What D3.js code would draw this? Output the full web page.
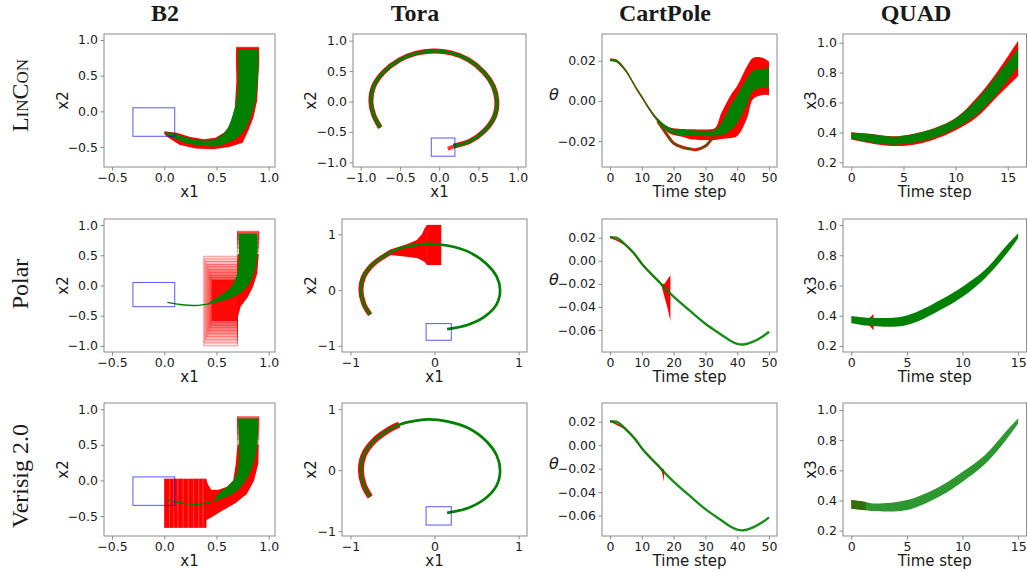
<!DOCTYPE html>
<html>
<head>
<meta charset="utf-8">
<script src="https://cdn.jsdelivr.net/npm/d3@7"></script>
<style>
  body { margin: 0; background: #fff; }
  svg text { font-family: "DejaVu Sans", sans-serif; fill: #1a1a1a; }
  .alabel { font-size: 15px; }
  .coltitle { font-family: "Liberation Serif", serif; font-weight: bold; font-size: 24px; }
  .rowtitle { font-family: "Liberation Serif", serif; font-size: 24px; }
</style>
</head>
<body>
<svg width="1027" height="571"></svg>
<script>
// ---- labels
var colTitles = ["B2", "Tora", "CartPole", "QUAD"];
var rowTitles = ["LinCon", "Polar", "Verisig 2.0"];

// ---- goal sets [x1lo, x1hi, x2lo, x2hi]
var b2Goal = [-0.3, 0.1, -0.35, 0.05];
var toraGoal = [-0.1, 0.2, -0.9, -0.6];

// ---- B2, LinCon: reach tube and simulated bundle (outer / inner edges)
var b2LinRedOuter = [[0.905, 0.9], [0.905, 0.62], [0.89, 0.16], [0.855, -0.08], [0.81, -0.25], [0.75, -0.44], [0.62, -0.50], [0.47, -0.53], [0.30, -0.52], [0.15, -0.47], [0.04, -0.37], [0.0, -0.32]];
var b2LinRedInner = [[0.69, 0.9], [0.69, 0.40], [0.675, 0.05], [0.65, -0.10], [0.62, -0.22], [0.57, -0.30], [0.49, -0.37], [0.38, -0.39], [0.25, -0.36], [0.12, -0.30], [0.0, -0.28]];
var b2LinTopBoxes = [[0.69, 0.905, 0.72, 0.90], [0.69, 0.905, 0.66, 0.88], [0.69, 0.905, 0.60, 0.85], [0.69, 0.905, 0.54, 0.82]];
var b2LinGreenOuter = [[0.90, 0.87], [0.90, 0.63], [0.875, 0.16], [0.83, -0.07], [0.79, -0.21], [0.73, -0.33], [0.64, -0.42], [0.50, -0.49], [0.35, -0.48], [0.20, -0.44], [0.08, -0.37], [0.015, -0.32]];
var b2LinGreenInner = [[0.705, 0.87], [0.705, 0.40], [0.685, 0.10], [0.665, 0.0], [0.63, -0.16], [0.58, -0.29], [0.50, -0.38], [0.40, -0.41], [0.25, -0.38], [0.12, -0.32], [0.02, -0.285]];

// ---- B2, Polar
var b2PolTopBoxes = [[0.70, 0.905, 0.55, 0.90], [0.70, 0.905, 0.62, 0.89], [0.70, 0.905, 0.69, 0.88], [0.70, 0.905, 0.76, 0.87]];
var b2PolRight = [[0.70, 0.52], [0.905, 0.52], [0.89, 0.2], [0.85, -0.02], [0.80, -0.19], [0.73, -0.35], [0.70, -0.55]];
var b2PolNest = [[0.378, 0.70, -1.00, 0.485], [0.388, 0.70, -0.95, 0.44], [0.398, 0.70, -0.90, 0.40], [0.408, 0.70, -0.85, 0.35],
                 [0.418, 0.70, -0.80, 0.31], [0.428, 0.70, -0.75, 0.26], [0.438, 0.70, -0.70, 0.22], [0.446, 0.70, -0.66, 0.17],
                 [0.452, 0.70, -0.62, 0.13], [0.46, 0.70, -0.58, 0.09]];
var b2PolFanOuter = [[0.89, 0.86], [0.895, 0.6], [0.875, 0.3], [0.82, 0.05], [0.74, -0.11], [0.62, -0.22], [0.5, -0.28], [0.42, -0.305]];
var b2PolFanInner = [[0.71, 0.86], [0.715, 0.5], [0.69, 0.15], [0.63, -0.04], [0.53, -0.17], [0.45, -0.26], [0.42, -0.29]];
var b2PolTail = [[0.44, -0.30], [0.3, -0.33], [0.15, -0.315], [0.03, -0.28]];

// ---- B2, Verisig 2.0
var b2VerTopBoxes = [[0.70, 0.905, 0.50, 0.90], [0.70, 0.905, 0.58, 0.89], [0.70, 0.905, 0.66, 0.88], [0.70, 0.905, 0.74, 0.87]];
var b2VerBlock = [[0.003, 0.40, -0.66, 0.02]];
var b2VerBlockLines = [0.05, 0.09, 0.13, 0.18, 0.23, 0.28, 0.33, 0.37];
var b2VerBand = [[0.40, 0.02], [0.42, -0.06], [0.45, -0.13], [0.52, -0.13], [0.60, -0.09], [0.66, 0.0], [0.685, 0.24], [0.70, 0.50],
                 [0.905, 0.50], [0.90, 0.24], [0.86, 0.0], [0.79, -0.19], [0.68, -0.32], [0.55, -0.43], [0.45, -0.52], [0.40, -0.56]];
var b2VerFanOuter = [[0.897, 0.87], [0.89, 0.47], [0.843, 0.19], [0.78, 0.0], [0.70, -0.14], [0.60, -0.23], [0.52, -0.27]];
var b2VerFanInner = [[0.705, 0.87], [0.715, 0.47], [0.70, 0.14], [0.65, -0.02], [0.54, -0.16], [0.48, -0.24]];
var b2VerTail = [[0.52, -0.27], [0.35, -0.33], [0.2, -0.325], [0.04, -0.28]];

// ---- Tora trajectories (x1, x2)
var toraLinArc = [[-0.75, -0.43], [-0.835, -0.22], [-0.87, 0.0], [-0.835, 0.25], [-0.71, 0.48], [-0.51, 0.68], [-0.3, 0.79], [-0.08, 0.83],
                  [0.15, 0.80], [0.37, 0.69], [0.57, 0.48], [0.69, 0.25], [0.735, 0.0], [0.70, -0.26], [0.57, -0.49], [0.39, -0.655], [0.18, -0.735]];
var toraLinRedEnd = [[0.11, -0.78], [0.18, -0.74]];
var toraArc = [[-0.765, -0.44], [-0.84, -0.25], [-0.875, 0.0], [-0.84, 0.25], [-0.72, 0.48], [-0.52, 0.68], [-0.42, 0.745], [-0.3, 0.79],
               [-0.08, 0.83], [0.15, 0.80], [0.40, 0.69], [0.62, 0.47], [0.74, 0.24], [0.78, 0.0], [0.74, -0.25], [0.6, -0.47], [0.4, -0.62], [0.15, -0.70]];
var toraPolFlare = [[-0.62, 0.62], [-0.526, 0.73], [-0.33, 0.82], [-0.21, 0.90], [-0.15, 1.0], [-0.12, 1.10], [-0.09, 1.17], [0.08, 1.17], [0.08, 0.45],
                    [-0.09, 0.45], [-0.12, 0.51], [-0.20, 0.57], [-0.33, 0.60], [-0.526, 0.63], [-0.62, 0.58]];

// ---- CartPole, theta over time
var cpLinT = [0, 2, 5, 8, 10, 13, 15, 18, 20, 23, 25, 28, 30, 33, 35, 38, 40, 43, 45, 48, 50];
var cpLinGreenLo = [0.0199, 0.0194, 0.0144, 0.0064, 0.0014, -0.0061, -0.0102, -0.0150, -0.0165, -0.0172, -0.0174, -0.0175, -0.0176, -0.0175, -0.0172, -0.0145, -0.0110, -0.0020, 0.0050, 0.0068, 0.0070];
var cpLinGreenHi = [0.0209, 0.0205, 0.0156, 0.0076, 0.0026, -0.0049, -0.0088, -0.0128, -0.0140, -0.0145, -0.0146, -0.0148, -0.0149, -0.0145, -0.0110, -0.0020, 0.0030, 0.0110, 0.0150, 0.0160, 0.0162];
var cpLinRedLo = [0.0197, 0.0192, 0.0142, 0.0062, 0.0012, -0.0063, -0.0104, -0.0155, -0.0170, -0.0180, -0.0190, -0.0195, -0.0195, -0.0195, -0.0190, -0.0185, -0.0175, -0.0090, 0.0010, 0.0030, 0.0028];
var cpLinRedHi = [0.0211, 0.0207, 0.0158, 0.0078, 0.0028, -0.0047, -0.0086, -0.0126, -0.0136, -0.0140, -0.0141, -0.0142, -0.0142, -0.0135, -0.0060, 0.0030, 0.0075, 0.0170, 0.0215, 0.0215, 0.0195];
var cpLinBranchT = [15, 18, 20, 23, 25, 27, 30, 32, 34];
var cpLinBranch = [-0.0100, -0.0170, -0.0210, -0.0232, -0.0238, -0.0243, -0.0225, -0.0190, -0.0165];

var cpT = [0, 2, 3, 5, 8, 10, 13, 15, 17, 20, 25, 30, 35, 38, 40, 42, 45, 48, 50];
var cpTheta = [0.0205, 0.0200, 0.0185, 0.0135, 0.0050, -0.0025, -0.0115, -0.0170, -0.0230, -0.0310, -0.0430, -0.0545, -0.0640, -0.0695, -0.0720, -0.0725, -0.0700, -0.0655, -0.0615];
var cpPolRedT = [0, 5, 10, 15, 16, 17, 18, 18.5, 19];
var cpPolRedLo = [0.0197, 0.0127, -0.0033, -0.0178, -0.0208, -0.0300, -0.0400, -0.0460, -0.0520];
var cpPolRedHi = [0.0213, 0.0143, -0.0017, -0.0162, -0.0192, -0.0200, -0.0165, -0.0145, -0.0125];
var cpVerRedT = [0, 5, 10, 15, 16, 16.5, 17];
var cpVerRedLo = [0.0198, 0.0128, -0.0032, -0.0177, -0.0207, -0.0250, -0.0310];
var cpVerRedHi = [0.0212, 0.0142, -0.0018, -0.0163, -0.0193, -0.0200, -0.0205];

// ---- QUAD, x3 over time
var quadLinT = [0, 2, 4, 6, 8, 10, 12, 14, 16];
var quadLinGreenLo = [0.355, 0.332, 0.318, 0.332, 0.367, 0.428, 0.517, 0.660, 0.840];
var quadLinGreenHi = [0.400, 0.388, 0.372, 0.390, 0.428, 0.494, 0.617, 0.784, 0.962];
var quadLinRedLo = [0.352, 0.325, 0.310, 0.318, 0.355, 0.415, 0.500, 0.640, 0.777];
var quadLinRedHi = [0.402, 0.390, 0.374, 0.392, 0.430, 0.496, 0.630, 0.806, 1.013];

var quadPolT = [0, 2, 5, 8, 10, 12, 14, 15];
var quadPolGreenLo = [0.350, 0.330, 0.339, 0.438, 0.526, 0.647, 0.813, 0.912];
var quadPolGreenHi = [0.398, 0.385, 0.402, 0.504, 0.592, 0.702, 0.868, 0.945];
var quadPolRedT = [1.3, 1.5, 1.8, 2.0];
var quadPolRedLo = [0.360, 0.343, 0.320, 0.303];
var quadPolRedHi = [0.362, 0.377, 0.397, 0.412];

var quadVerT = [0, 1.3, 2, 5, 8, 10, 12, 14, 15];
var quadVerGreenLo = [0.345, 0.335, 0.330, 0.337, 0.430, 0.525, 0.640, 0.810, 0.910];
var quadVerGreenHi = [0.403, 0.390, 0.380, 0.403, 0.495, 0.590, 0.700, 0.865, 0.945];
var quadVerRedT = [0, 1.3];
var quadVerRedLo = [0.345, 0.335];
var quadVerRedHi = [0.403, 0.390];

// ---- ticks
var b2Ticks = [-0.5, 0, 0.5, 1];
var b2PolYTicks = [-1, -0.5, 0, 0.5, 1];
var toraLinTicks = [-1, -0.5, 0, 0.5, 1];
var toraTicks = [-1, 0, 1];
var cpXTicks = [0, 10, 20, 30, 40, 50];
var cpLinYTicks = [-0.02, 0, 0.02];
var cpYTicks = [-0.06, -0.04, -0.02, 0, 0.02];
var quadXTicks = [0, 5, 10, 15];
var quadYTicks = [0.2, 0.4, 0.6, 0.8, 1.0];

var RED = "#ff0000", GREEN = "#008000", BLUE = "#0000ff";
var svg = d3.select("svg");
var clipN = 0;

function lineOf(x, y, curve) {
  return d3.line().x(function(d) { return x(d[0]); }).y(function(d) { return y(d[1]); }).curve(curve || d3.curveCatmullRom);
}

function polygon(g, x, y, ring, fill) {
  return g.append("path").attr("d", lineOf(x, y, d3.curveLinearClosed)(ring))
    .attr("fill", fill).attr("stroke", "none");
}

// band between two smooth edges, joined with straight ends
function ribbon(g, x, y, outer, inner, fill, curve) {
  var l = lineOf(x, y, curve || d3.curveCatmullRom);
  var d = l(outer) + "L" + l(inner.slice().reverse()).slice(1) + "Z";
  return g.append("path").attr("d", d).attr("fill", fill).attr("stroke", "none");
}

function boxes(g, x, y, list, fillOp, strokeOp) {
  g.selectAll(null).data(list).enter().append("rect")
    .attr("x", function(d) { return x(d[0]); })
    .attr("y", function(d) { return y(d[3]); })
    .attr("width", function(d) { return x(d[1]) - x(d[0]); })
    .attr("height", function(d) { return y(d[2]) - y(d[3]); })
    .attr("fill", RED).attr("fill-opacity", fillOp)
    .attr("stroke", RED).attr("stroke-opacity", strokeOp).attr("stroke-width", 0.7);
}

function stroke(g, x, y, pts, color, w, op) {
  g.append("path").attr("d", lineOf(x, y)(pts)).attr("fill", "none")
    .attr("stroke", color).attr("stroke-width", w).attr("stroke-opacity", op || 1)
    .attr("stroke-linecap", "butt").attr("stroke-linejoin", "round");
}

function band(g, x, y, t, lo, hi, color, op) {
  var area = d3.area()
    .x(function(i) { return x(t[i]); })
    .y0(function(i) { return y(lo[i]); })
    .y1(function(i) { return y(hi[i]); })
    .curve(d3.curveCatmullRom);
  g.append("path").attr("d", area(d3.range(t.length))).attr("fill", color).attr("fill-opacity", op || 1);
}

function series(g, x, y, t, v, color, w, op) {
  var ln = d3.line().x(function(i) { return x(t[i]); }).y(function(i) { return y(v[i]); }).curve(d3.curveCatmullRom);
  g.append("path").attr("d", ln(d3.range(t.length))).attr("fill", "none")
    .attr("stroke", color).attr("stroke-width", w).attr("stroke-opacity", op || 1);
}

function goal(g, x, y, r) {
  g.append("rect").attr("x", x(r[0])).attr("y", y(r[3]))
    .attr("width", x(r[1]) - x(r[0])).attr("height", y(r[2]) - y(r[3]))
    .attr("fill", "none").attr("stroke", BLUE).attr("stroke-opacity", 0.6).attr("stroke-width", 1.1);
}

function panel(cfg) {
  var b = cfg.box; // [left, right, top, bottom]
  var x = d3.scaleLinear().domain(cfg.xDom).range([b[0], b[1]]);
  var y = d3.scaleLinear().domain(cfg.yDom).range([b[3], b[2]]);
  var id = "clip" + (clipN++);
  svg.append("clipPath").attr("id", id).append("rect")
    .attr("x", b[0]).attr("y", b[2]).attr("width", b[1] - b[0]).attr("height", b[3] - b[2]);
  var g = svg.append("g");
  var plot = g.append("g").attr("clip-path", "url(#" + id + ")");
  cfg.draw(plot, x, y);

  g.append("rect").attr("x", b[0]).attr("y", b[2]).attr("width", b[1] - b[0]).attr("height", b[3] - b[2])
    .attr("fill", "none").attr("stroke", "#8a8a8a").attr("stroke-width", 1);

  var xa = g.append("g").attr("transform", "translate(0," + b[3] + ")")
    .call(d3.axisBottom(x).tickValues(cfg.xTicks).tickFormat(d3.format(cfg.xFmt)).tickSize(3.5).tickPadding(2.5));
  var ya = g.append("g").attr("transform", "translate(" + b[0] + ",0)")
    .call(d3.axisLeft(y).tickValues(cfg.yTicks).tickFormat(d3.format(cfg.yFmt)).tickSize(3.5).tickPadding(2.5));
  [xa, ya].forEach(function(a) {
    a.select(".domain").remove();
    a.selectAll(".tick line").attr("stroke", "#8a8a8a");
    a.selectAll(".tick text").attr("fill", "#1a1a1a").attr("font-family", "DejaVu Sans").attr("font-size", 12.5);
  });

  g.append("text").attr("class", "alabel").attr("x", (b[0] + b[1]) / 2).attr("y", b[3] + 30)
    .attr("text-anchor", "middle").text(cfg.xLabel);
  if (cfg.yLabel === "\u03b8") {
    g.append("text").attr("x", b[0] - 48).attr("y", (b[2] + b[3]) / 2 - 1)
      .attr("text-anchor", "middle").attr("font-style", "italic").attr("font-size", 16).text(cfg.yLabel);
  } else {
    var cx = b[0] - cfg.yOff + 5, cy = (b[2] + b[3]) / 2;
    g.append("text").attr("class", "alabel").attr("transform", "translate(" + cx + "," + cy + ") rotate(-90)")
      .attr("text-anchor", "middle").text(cfg.yLabel);
  }
}

// ---- layout
var rowsY = [[34, 167], [219, 352], [403, 536]];
function box(l, r, row) { return [l, r, rowsY[row][0], rowsY[row][1]]; }

var panels = [
  // ---------- B2
  { box: box(104, 275, 0), xDom: [-0.577, 1.06], yDom: [-0.78, 1.084], xTicks: b2Ticks, yTicks: b2Ticks, xFmt: ".1f", yFmt: ".1f",
    xLabel: "x1", yLabel: "x2", yOff: 41.5,
    draw: function(g, x, y) {
      ribbon(g, x, y, b2LinRedOuter, b2LinRedInner, RED, d3.curveLinear);
      boxes(g, x, y, b2LinTopBoxes, 0.15, 0.5);
      ribbon(g, x, y, b2LinGreenOuter, b2LinGreenInner, GREEN);
      goal(g, x, y, b2Goal);
    } },
  { box: box(104, 275, 1), xDom: [-0.577, 1.06], yDom: [-1.1, 1.1], xTicks: b2Ticks, yTicks: b2PolYTicks, xFmt: ".1f", yFmt: ".1f",
    xLabel: "x1", yLabel: "x2", yOff: 41.5,
    draw: function(g, x, y) {
      boxes(g, x, y, b2PolNest, 0.1, 0.55);
      boxes(g, x, y, b2PolNest.slice(-1), 0.9, 0.9);
      polygon(g, x, y, b2PolRight, RED);
      boxes(g, x, y, b2PolTopBoxes, 0.2, 0.5);
      ribbon(g, x, y, b2PolFanOuter, b2PolFanInner, GREEN);
      stroke(g, x, y, b2PolTail, GREEN, 1.4);
      goal(g, x, y, b2Goal);
    } },
  { box: box(104, 275, 2), xDom: [-0.577, 1.06], yDom: [-0.78, 1.088], xTicks: b2Ticks, yTicks: b2Ticks, xFmt: ".1f", yFmt: ".1f",
    xLabel: "x1", yLabel: "x2", yOff: 41.5,
    draw: function(g, x, y) {
      boxes(g, x, y, b2VerBlock, 1, 1);
      g.selectAll(null).data(b2VerBlockLines).enter().append("line")
        .attr("x1", function(d) { return x(d); }).attr("x2", function(d) { return x(d); })
        .attr("y1", y(b2VerBlock[0][3])).attr("y2", y(b2VerBlock[0][2]))
        .attr("stroke", "#ff6b6b").attr("stroke-width", 0.6);
      polygon(g, x, y, b2VerBand, RED);
      boxes(g, x, y, b2VerTopBoxes, 0.2, 0.5);
      ribbon(g, x, y, b2VerFanOuter, b2VerFanInner, GREEN);
      stroke(g, x, y, b2VerTail, GREEN, 1.4);
      goal(g, x, y, b2Goal);
    } },
  // ---------- Tora
  { box: box(353, 526, 0), xDom: [-1.098, 1.106], yDom: [-1.077, 1.11], xTicks: toraLinTicks, yTicks: toraLinTicks, xFmt: ".1f", yFmt: ".1f",
    xLabel: "x1", yLabel: "x2", yOff: 42,
    draw: function(g, x, y) {
      stroke(g, x, y, toraLinArc, RED, 5);
      stroke(g, x, y, toraLinRedEnd, RED, 4, 0.8);
      stroke(g, x, y, toraLinArc, GREEN, 3.2);
      goal(g, x, y, toraGoal);
    } },
  { box: box(342, 527, 1), xDom: [-1.1, 1.1], yDom: [-1.11, 1.275], xTicks: toraTicks, yTicks: toraTicks, xFmt: "d", yFmt: "d",
    xLabel: "x1", yLabel: "x2", yOff: 31,
    draw: function(g, x, y) {
      stroke(g, x, y, toraArc.slice(0, 6), RED, 5);
      ribbon(g, x, y, toraPolFlare.slice(0, 7), toraPolFlare.slice(9).reverse(), RED, d3.curveLinear);
      polygon(g, x, y, toraPolFlare.slice(6, 10), RED);
      stroke(g, x, y, toraArc, GREEN, 2.7);
      goal(g, x, y, toraGoal);
    } },
  { box: box(342, 527, 2), xDom: [-1.1, 1.1], yDom: [-1.08, 1.10], xTicks: toraTicks, yTicks: toraTicks, xFmt: "d", yFmt: "d",
    xLabel: "x1", yLabel: "x2", yOff: 31,
    draw: function(g, x, y) {
      stroke(g, x, y, toraArc.slice(0, 7), RED, 6);
      stroke(g, x, y, toraArc, GREEN, 2.7);
      goal(g, x, y, toraGoal);
    } },
  // ---------- CartPole
  { box: box(602, 777, 0), xDom: [-2.5, 52.5], yDom: [-0.0329, 0.0333], xTicks: cpXTicks, yTicks: cpLinYTicks, xFmt: "d", yFmt: ".2f",
    xLabel: "Time step", yLabel: "\u03b8",
    draw: function(g, x, y) {
      band(g, x, y, cpLinT, cpLinRedLo, cpLinRedHi, RED);
      series(g, x, y, cpLinBranchT, cpLinBranch, RED, 3);
      band(g, x, y, cpLinT, cpLinGreenLo, cpLinGreenHi, GREEN);
      series(g, x, y, cpLinBranchT, cpLinBranch, GREEN, 1.2);
    } },
  { box: box(602, 777, 1), xDom: [-2.5, 52.5], yDom: [-0.079, 0.0362], xTicks: cpXTicks, yTicks: cpYTicks, xFmt: "d", yFmt: ".2f",
    xLabel: "Time step", yLabel: "\u03b8",
    draw: function(g, x, y) {
      band(g, x, y, cpPolRedT, cpPolRedLo, cpPolRedHi, RED);
      series(g, x, y, cpT, cpTheta, GREEN, 2.4, 0.9);
    } },
  { box: box(602, 777, 2), xDom: [-2.5, 52.5], yDom: [-0.0774, 0.036], xTicks: cpXTicks, yTicks: cpYTicks, xFmt: "d", yFmt: ".2f",
    xLabel: "Time step", yLabel: "\u03b8",
    draw: function(g, x, y) {
      band(g, x, y, cpVerRedT, cpVerRedLo, cpVerRedHi, RED);
      series(g, x, y, cpT, cpTheta, GREEN, 2.4, 0.9);
    } },
  // ---------- QUAD
  { box: box(843, 1026.5, 0), xDom: [-0.8, 16.8], yDom: [0.169, 1.058], xTicks: quadXTicks, yTicks: quadYTicks, xFmt: "d", yFmt: ".1f",
    xLabel: "Time step", yLabel: "x3", yOff: 32,
    draw: function(g, x, y) {
      band(g, x, y, quadLinT, quadLinRedLo, quadLinRedHi, RED);
      band(g, x, y, quadLinT, quadLinGreenLo, quadLinGreenHi, GREEN);
    } },
  { box: box(843, 1026.5, 1), xDom: [-0.75, 15.75], yDom: [0.16, 1.04], xTicks: quadXTicks, yTicks: quadYTicks, xFmt: "d", yFmt: ".1f",
    xLabel: "Time step", yLabel: "x3", yOff: 32,
    draw: function(g, x, y) {
      band(g, x, y, quadPolRedT, quadPolRedLo, quadPolRedHi, RED);
      band(g, x, y, quadPolT, quadPolGreenLo, quadPolGreenHi, GREEN);
    } },
  { box: box(843, 1026.5, 2), xDom: [-0.75, 15.75], yDom: [0.165, 1.046], xTicks: quadXTicks, yTicks: quadYTicks, xFmt: "d", yFmt: ".1f",
    xLabel: "Time step", yLabel: "x3", yOff: 32,
    draw: function(g, x, y) {
      band(g, x, y, quadVerRedT, quadVerRedLo, quadVerRedHi, RED);
      band(g, x, y, quadVerT, quadVerGreenLo, quadVerGreenHi, "#0a850a", 0.85);
    } }
];

panels.forEach(panel);

// ---- column and row titles
var colCenters = [165, 415, 665, 916];
svg.selectAll(".coltitle").data(colTitles).enter().append("text")
  .attr("class", "coltitle").attr("x", function(d, i) { return colCenters[i]; }).attr("y", 21)
  .attr("text-anchor", "middle").text(function(d) { return d; });

var rowCenters = [95.5, 284, 476];
svg.selectAll(".rowtitle").data(rowTitles).enter().append("text")
  .attr("class", "rowtitle")
  .attr("transform", function(d, i) { return "translate(28," + rowCenters[i] + ") rotate(-90)"; })
  .attr("text-anchor", "middle")
  .style("font-variant", function(d, i) { return i === 0 ? "small-caps" : "normal"; })
  .text(function(d) { return d; });
</script>
</body>
</html>
